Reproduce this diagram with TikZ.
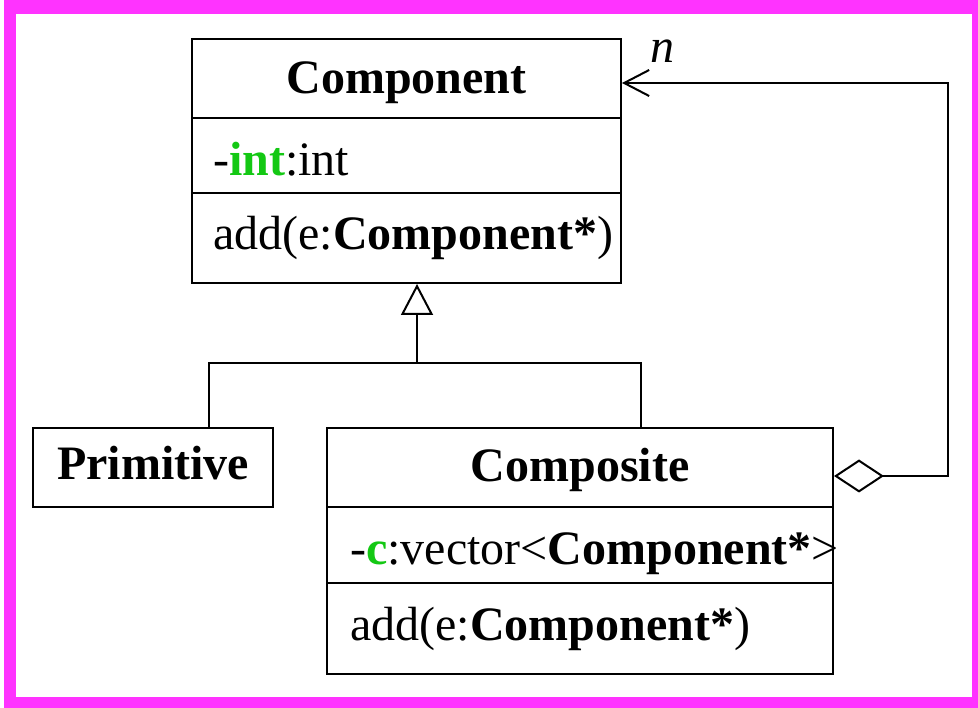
\documentclass[tikz,border=0pt]{standalone}
\usepackage{fontspec}
\setmainfont{Liberation Serif}
\usepackage{tikz}
\usetikzlibrary{arrows.meta}
\usetikzlibrary{calc}

\definecolor{umlpink}{RGB}{255,51,255}
\definecolor{umlgreen}{RGB}{20,200,20}
\newcommand{\umlfont}{\fontsize{48}{56}\selectfont}

\tikzset{
  classbox/.style={draw, line width=2pt, inner sep=0pt},
  umlline/.style={line width=2pt},
  classname/.style={anchor=base, inner sep=0pt, font=\umlfont\bfseries},
  member/.style={anchor=base west, inner sep=0pt, font=\umlfont},
}

\begin{document}
\begin{tikzpicture}[x=1pt, y=-1pt]
  \useasboundingbox (0,0) rectangle (978,708);
  % frame
  \fill[umlpink] (4,0) rectangle (978,708);
  \fill[white] (16,14) rectangle (972,697);

  % classes
  \node[classbox, minimum width=429pt, minimum height=244pt] (comp) at (406.5,161) {};
  \node[classbox, minimum width=240pt, minimum height=79pt] (prim) at (153,467.5) {};
  \node[classbox, minimum width=506pt, minimum height=246pt] (compo) at (580,551) {};

  \draw[umlline] (comp.west |- 0,118) -- (comp.east |- 0,118);
  \draw[umlline] (comp.west |- 0,193) -- (comp.east |- 0,193);
  \draw[umlline] (compo.west |- 0,507) -- (compo.east |- 0,507);
  \draw[umlline] (compo.west |- 0,583) -- (compo.east |- 0,583);

  \node[classname] (comp-name) at (406.5,94) {Component};
  \node[member] (comp-attr) at (213,176) {-\textcolor{umlgreen}{\textbf{int}}:int};
  \node[member] (comp-op) at (213,250) {add(e:\textbf{Component*})};

  \node[classname] (prim-name) at (153,480) {Primitive};

  \node[classname] (compo-name) at (580,482) {Composite};
  \node[member] (compo-attr) at (350,565) {-\textcolor{umlgreen}{\textbf{c}}:vector<\textbf{Component*}>};
  \node[member] (compo-op) at (350,640) {add(e:\textbf{Component*})};

  % generalization
  \coordinate (primtap) at (209,363);
  \coordinate (compotap) at (641,363);
  \coordinate (genjoin) at (417,363);
  \draw[umlline] (prim.north -| primtap) -- (primtap) -- (compotap) -- (compo.north -| compotap);
  \draw[umlline, -{Triangle[length=31pt, width=32pt, fill=white]}] (genjoin) -- (genjoin |- comp.south);

  % aggregation
  \coordinate (aggbot) at (948,476);
  \coordinate (aggtop) at (948,83);
  \draw[umlline, {Diamond[length=50pt, width=33pt, fill=white]}-{Straight Barb[length=25pt, width=26pt]}]
    (compo.east |- aggbot) -- (aggbot) -- (aggtop) -- (comp.east |- aggtop);
  \node[anchor=base, inner sep=0pt, font=\umlfont\itshape] (mult) at (662,63) {n};
\end{tikzpicture}
\end{document}
